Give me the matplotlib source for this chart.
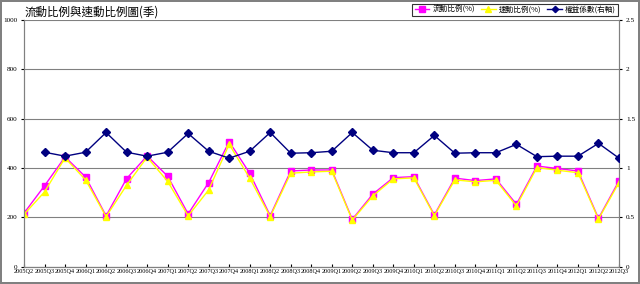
import matplotlib
matplotlib.use("Agg")
import matplotlib.pyplot as plt
import numpy as np

# quarters on the x axis
quarters = ["2005Q2", "2005Q3", "2005Q4",
            "2006Q1", "2006Q2", "2006Q3", "2006Q4",
            "2007Q1", "2007Q2", "2007Q3", "2007Q4",
            "2008Q1", "2008Q2", "2008Q3", "2008Q4",
            "2009Q1", "2009Q2", "2009Q3", "2009Q4",
            "2010Q1", "2010Q2", "2010Q3", "2010Q4",
            "2011Q1", "2011Q2", "2011Q3", "2011Q4",
            "2012Q1", "2012Q2", "2012Q3"]

# 流動比例 (%), left axis
current_ratio = [217, 328, 445, 364, 206, 357, 449, 367, 214, 341,
                 507, 379, 207, 388, 392, 392, 192, 294, 361, 365,
                 210, 359, 349, 356, 253, 408, 398, 388, 196, 348]

# 速動比例 (%), left axis
quick_ratio = [212, 303, 441, 352, 203, 330, 444, 346, 206, 311,
               496, 359, 203, 379, 384, 387, 189, 287, 356, 360,
               207, 352, 344, 350, 246, 402, 391, 381, 193, 341]

# 權益係數, right axis (first quarter missing)
equity_mult = [np.nan, 1.16, 1.12, 1.16, 1.36, 1.16, 1.12, 1.16, 1.35, 1.17,
               1.10, 1.17, 1.36, 1.15, 1.155, 1.17, 1.36, 1.18, 1.155, 1.155,
               1.33, 1.15, 1.155, 1.155, 1.24, 1.115, 1.12, 1.12, 1.25, 1.10]

cjk = ['Noto Sans CJK TC', 'DejaVu Sans']
serif = 'Liberation Serif'

fig = plt.figure(figsize=(6.4, 2.84), dpi=100, linewidth=1.5, edgecolor='#808080')
ax = fig.add_axes([24 / 640, 1 - 266.7 / 284, 595 / 640, 246.7 / 284])
ax2 = ax.twinx()

x = np.arange(len(quarters))

l1, = ax.plot(x, current_ratio, color='#FF00FF', lw=1, marker='s', ms=5,
              label='流動比例(%)', zorder=3)
l2, = ax.plot(x, quick_ratio, color='#FFFF00', lw=1, marker='^', ms=5,
              label='速動比例(%)', zorder=4)
l3, = ax2.plot(x, equity_mult, color='#000080', lw=1, marker='D', ms=4,
               label='權益係數(右軸)', zorder=5)

ax.set_xlim(0, len(quarters) - 1)
ax.set_ylim(0, 1000)
ax.set_yticks(np.arange(0, 1001, 200))
ax2.set_ylim(0, 2.5)
ax2.set_yticks([0, 0.5, 1, 1.5, 2, 2.5])
ax2.set_yticklabels(['0', '0.5', '1', '1.5', '2', '2.5'])

ax.set_xticks(x)
ax.set_xticklabels(quarters)
ax.grid(axis='y', color='#808080', lw=0.8)
ax.set_axisbelow(True)

for a in (ax, ax2):
    for s in a.spines.values():
        s.set_color('#808080')
    a.spines['top'].set_visible(False)
    for lab in a.get_yticklabels():
        lab.set_fontfamily(serif)
        lab.set_fontsize(5.2)
for lab in ax.get_xticklabels():
    lab.set_fontfamily(serif)
    lab.set_fontsize(4.5)

ax.tick_params(axis='x', direction='in', length=2, pad=2, colors='#000000')
ax.tick_params(axis='y', direction='out', length=2, pad=3)
ax2.tick_params(axis='y', direction='out', length=2, pad=3)

fig.text(25 / 640, 1 - 12 / 284, '流動比例與速動比例圖(季)', family=cjk,
         fontsize=8.3, va='center', ha='left')

leg = fig.legend(handles=[l1, l2, l3], loc='center right', ncol=3,
                 bbox_to_anchor=(622 / 640, 1 - 10 / 284),
                 prop={'family': cjk, 'size': 5.5}, frameon=True, fancybox=False,
                 handlelength=1.9, handletextpad=0.4, columnspacing=0.8,
                 borderpad=0.3, markerscale=0.8)
leg.get_frame().set_edgecolor('#000000')
leg.get_frame().set_linewidth(0.8)

fig.savefig('out.png', dpi=100)
